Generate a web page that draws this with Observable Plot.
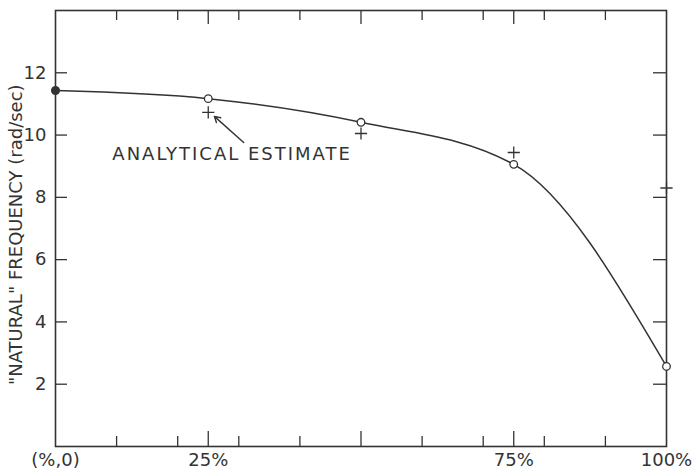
<!DOCTYPE html>
<html><head><meta charset="utf-8">
<script src="https://cdn.jsdelivr.net/npm/d3@7"></script>
<script src="https://cdn.jsdelivr.net/npm/@observablehq/plot@0.6"></script>
<style>
body{margin:0;background:#fff}
svg text{font-family:"DejaVu Sans",sans-serif}
</style>
</head><body><div id="chart"></div>
<script>
// Measured ("natural") frequency vs. load percentage (circles + curve)
const loadPct = [0, 25, 50, 75, 100];
const measured = [11.43, 11.17, 10.41, 9.06, 2.57];
// Analytical estimate (plus marks)
const analyticalPct = [25, 50, 75, 100];
const analytical = [10.73, 10.05, 9.44, 8.3];
// Ticks and labels
const minorTicksX = [10, 20, 30, 40, 60, 70, 80, 90];
const majorTicksX = [25, 50, 75];
const xLabelValues = [0, 25, 75, 100];
const xLabelText = ["(%,0)", "25%", "75%", "100%"];
const yTicks = [2, 4, 6, 8, 10, 12];
const yLabel = "\"NATURAL\" FREQUENCY (rad/sec)";
// Annotation
const noteText = "ANALYTICAL ESTIMATE";
const notePos = [9.3, 9.4];
const arrowFrom = [30.8, 9.76];
const arrowTo = [26.0, 10.6];

const ink = "#333";
const measuredData = loadPct.map((x, i) => ({x, y: measured[i]}));
const analyticalData = analyticalPct.map((x, i) => ({x, y: analytical[i]}));

const W = 699, H = 473, mL = 55, mR = 33, mT = 10, mB = 27;
const iw = W - mL - mR, ih = H - mT - mB;

const chart = Plot.plot({
  width: W, height: H,
  marginLeft: mL, marginRight: mR, marginTop: mT, marginBottom: mB,
  x: {domain: [0, 100]},
  y: {domain: [0, 14]},
  style: {fontFamily: "DejaVu Sans, sans-serif", color: ink, background: "white"},
  marks: [
    Plot.axisX(xLabelValues, {tickSize: 0, tickPadding: 7, fontSize: 18,
      tickFormat: d => xLabelText[xLabelValues.indexOf(d)], label: null}),
    Plot.axisY(yTicks, {tickSize: 0, tickPadding: 9, fontSize: 18, label: null}),
    // inward ticks, bottom and top
    Plot.tickX(minorTicksX, {x: d => d, insetTop: ih - 10, stroke: ink, strokeWidth: 1.3}),
    Plot.tickX(majorTicksX, {x: d => d, insetTop: ih - 15, stroke: ink, strokeWidth: 1.3}),
    Plot.tickX(minorTicksX, {x: d => d, insetBottom: ih - 10, stroke: ink, strokeWidth: 1.3}),
    Plot.tickX(majorTicksX, {x: d => d, insetBottom: ih - 14, stroke: ink, strokeWidth: 1.3}),
    // inward ticks, left and right
    Plot.tickY(yTicks, {y: d => d, insetRight: iw - 12, stroke: ink, strokeWidth: 1.3}),
    Plot.tickY(yTicks, {y: d => d, insetLeft: iw - 13, stroke: ink, strokeWidth: 1.3}),
    Plot.frame({stroke: ink, strokeWidth: 1.6}),
    Plot.line(measuredData, {x: "x", y: "y", curve: "monotone-x", stroke: ink, strokeWidth: 1.5}),
    Plot.dot(measuredData.slice(1), {x: "x", y: "y", r: 3.8, fill: "white", stroke: ink, strokeWidth: 1.3}),
    Plot.dot(measuredData.slice(0, 1), {x: "x", y: "y", r: 3.8, fill: ink, stroke: ink}),
    Plot.dot(analyticalData, {x: "x", y: "y", symbol: "plus", r: 4, stroke: ink, strokeWidth: 1.3}),
    Plot.arrow([{x1: arrowFrom[0], y1: arrowFrom[1], x2: arrowTo[0], y2: arrowTo[1]}],
      {x1: "x1", y1: "y1", x2: "x2", y2: "y2", stroke: ink, strokeWidth: 1.4, headLength: 7}),
    Plot.text([noteText], {x: notePos[0], y: notePos[1], text: d => d, textAnchor: "start",
      fontSize: 18, fill: ink}),
    Plot.text([yLabel], {frameAnchor: "left", y: 6.8, text: d => d, rotate: -90, dx: -39,
      textAnchor: "middle", fontSize: 18, fill: ink})
  ]
});
d3.select(chart).selectAll("text").filter(function() { return this.textContent === noteText; })
  .attr("letter-spacing", "2px");
document.getElementById("chart").appendChild(chart);
</script>
</body></html>
